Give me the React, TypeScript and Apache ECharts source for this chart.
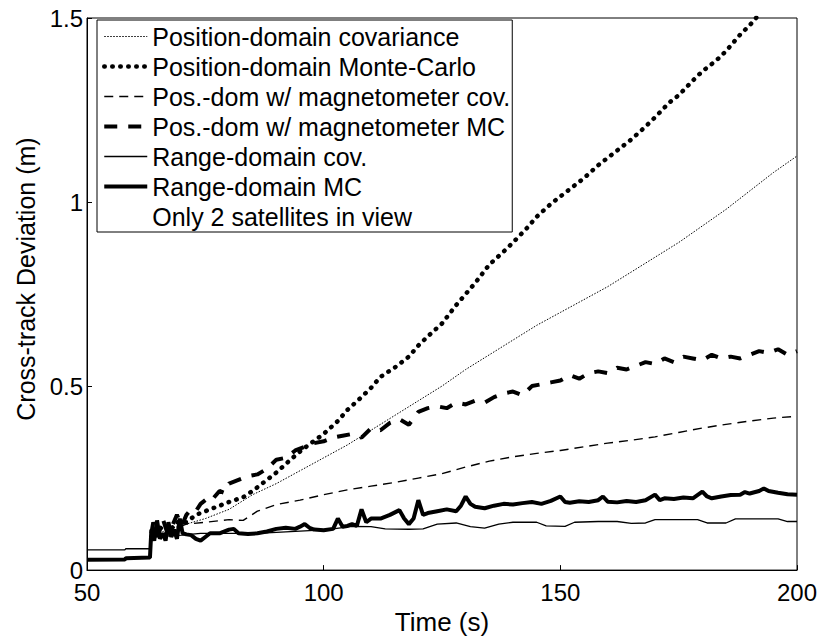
import React, { useEffect, useRef } from "react";
import * as echarts from "echarts";

const xTicks = { min: 50, max: 200, interval: 50 };
const yTicks = { min: 0, max: 1.5, interval: 0.5 };

const seriesNames = [
  "Position-domain covariance",
  "Position-domain Monte-Carlo",
  "Pos.-dom w/ magnetometer cov.",
  "Pos.-dom w/ magnetometer MC",
  "Range-domain cov.",
  "Range-domain MC",
  "Only 2 satellites in view",
];

const posCov: [number, number][] = [
  [63.6, 0.09], [67, 0.11], [71, 0.125], [75, 0.14], [80, 0.165], [85, 0.205], [90, 0.235],
  [95, 0.27], [100, 0.305], [105, 0.34], [110, 0.38], [115, 0.42], [120, 0.46], [125, 0.5],
  [130, 0.545], [135, 0.585], [140, 0.625], [145, 0.665], [150, 0.7], [155, 0.735], [160, 0.77],
  [165, 0.81], [170, 0.85], [175, 0.89], [180, 0.935], [185, 0.98], [190, 1.03], [195, 1.08],
  [200, 1.125],
];

const posMc: [number, number][] = [
  [63.6, 0.09], [65, 0.12], [67, 0.1], [69, 0.13], [71, 0.13], [73, 0.15], [75, 0.16],
  [78, 0.175], [80, 0.185], [83, 0.198], [85, 0.215], [88, 0.245], [90, 0.265], [93, 0.3],
  [95, 0.322], [97, 0.342], [100, 0.37], [103, 0.405], [105, 0.435], [108, 0.47], [110, 0.495],
  [112, 0.525], [115, 0.55], [118, 0.58], [120, 0.61], [122, 0.635], [125, 0.67], [128, 0.72],
  [130, 0.75], [132, 0.78], [135, 0.83], [138, 0.865], [140, 0.89], [143, 0.93], [145, 0.96],
  [148, 0.995], [150, 1.015], [153, 1.045], [155, 1.065], [158, 1.1], [160, 1.12], [163, 1.15],
  [165, 1.17], [168, 1.205], [170, 1.23], [173, 1.27], [175, 1.29], [178, 1.33], [180, 1.355],
  [183, 1.385], [185, 1.41], [188, 1.455], [190, 1.48], [192, 1.51],
];

const magCov: [number, number][] = [
  [63.6, 0.09], [66, 0.1], [68, 0.11], [71, 0.125], [75, 0.13], [80, 0.137], [83, 0.135],
  [86, 0.16], [90, 0.178], [95, 0.19], [100, 0.205], [105, 0.218], [110, 0.228], [115, 0.238],
  [120, 0.25], [125, 0.262], [130, 0.28], [135, 0.296], [140, 0.308], [145, 0.317], [150, 0.325],
  [155, 0.335], [160, 0.345], [165, 0.353], [170, 0.362], [175, 0.374], [180, 0.386],
  [185, 0.396], [190, 0.405], [195, 0.413], [200, 0.418],
];

const magMc: [number, number][] = [
  [63.6, 0.1], [64, 0.13], [65, 0.09], [66, 0.14], [67, 0.1], [68, 0.12], [69, 0.15], [70, 0.12],
  [71, 0.15], [72, 0.165], [73, 0.16], [74, 0.18], [75, 0.19], [76, 0.185], [77, 0.2], [78, 0.215],
  [79, 0.21], [80, 0.235], [82, 0.245], [84, 0.255], [86, 0.26], [88, 0.275], [90, 0.3],
  [92, 0.305], [94, 0.325], [96, 0.335], [98, 0.345], [100, 0.35], [102, 0.36], [104, 0.365],
  [106, 0.37], [108, 0.36], [110, 0.385], [112, 0.38], [114, 0.4], [116, 0.41], [118, 0.395],
  [120, 0.43], [122, 0.44], [124, 0.445], [126, 0.44], [128, 0.455], [130, 0.45], [132, 0.46],
  [134, 0.455], [136, 0.47], [138, 0.48], [140, 0.485], [142, 0.475], [144, 0.5], [146, 0.505],
  [148, 0.51], [150, 0.515], [152, 0.53], [154, 0.52], [156, 0.535], [158, 0.54], [160, 0.535],
  [162, 0.55], [164, 0.545], [166, 0.555], [168, 0.565], [170, 0.56], [172, 0.575], [174, 0.565],
  [176, 0.58], [178, 0.575], [180, 0.57], [182, 0.585], [184, 0.575], [186, 0.58], [188, 0.575],
  [190, 0.585], [192, 0.595], [194, 0.59], [196, 0.6], [198, 0.585], [200, 0.595],
];

const rangeCov: [number, number][] = [
  [50, 0.055], [58, 0.055], [58.2, 0.058], [63.5, 0.058], [63.7, 0.09], [66, 0.092], [70, 0.095],
  [74, 0.1], [80, 0.1], [86, 0.1], [92, 0.104], [98, 0.108], [102, 0.112], [106, 0.119],
  [110, 0.118], [113, 0.112], [118, 0.111], [121, 0.112], [124, 0.125], [128, 0.128], [131, 0.118],
  [134, 0.114], [137, 0.125], [140, 0.13], [145, 0.13], [147, 0.12], [151, 0.119], [153, 0.13],
  [158, 0.132], [162, 0.132], [165, 0.127], [168, 0.128], [170, 0.137], [179, 0.137], [181, 0.128],
  [185, 0.128], [187, 0.139], [196, 0.139], [198, 0.132], [200, 0.132],
];

const rangeMc: [number, number][] = [
  [50, 0.028], [58, 0.029], [58.2, 0.032], [63.3, 0.034], [63.6, 0.11], [64.2, 0.08], [64.8, 0.135],
  [65.4, 0.085], [66, 0.1], [66.6, 0.08], [67.2, 0.13], [67.8, 0.09], [68.4, 0.11], [69, 0.085],
  [69.6, 0.14], [70.2, 0.1], [71, 0.097], [72, 0.095], [73, 0.085], [74, 0.08], [75, 0.09],
  [76, 0.1], [78, 0.1], [80, 0.11], [81, 0.112], [82, 0.1], [84, 0.098], [86, 0.1], [88, 0.105],
  [90, 0.112], [92, 0.115], [94, 0.112], [95, 0.118], [96, 0.125], [97, 0.115], [98, 0.11],
  [100, 0.108], [102, 0.112], [103, 0.14], [104, 0.118], [105, 0.12], [106, 0.125], [107, 0.12],
  [108, 0.165], [109, 0.13], [110, 0.14], [112, 0.14], [114, 0.15], [116, 0.163], [117, 0.14],
  [118, 0.125], [119, 0.14], [120, 0.19], [121, 0.15], [122, 0.155], [124, 0.16], [126, 0.165],
  [128, 0.16], [129, 0.175], [130, 0.2], [131, 0.18], [132, 0.172], [134, 0.168], [136, 0.175],
  [138, 0.18], [140, 0.178], [142, 0.182], [144, 0.185], [146, 0.18], [148, 0.188], [150, 0.2],
  [151, 0.185], [152, 0.183], [154, 0.187], [156, 0.185], [158, 0.19], [159, 0.2], [160, 0.186],
  [162, 0.184], [164, 0.188], [166, 0.185], [168, 0.19], [170, 0.205], [171, 0.19], [172, 0.195],
  [174, 0.193], [176, 0.197], [178, 0.195], [180, 0.213], [181, 0.2], [182, 0.195], [184, 0.2],
  [186, 0.204], [188, 0.205], [189, 0.212], [190, 0.208], [192, 0.215], [193, 0.222], [194, 0.215],
  [196, 0.21], [198, 0.206], [200, 0.205],
];

const FONT = "'Liberation Sans', Arial, Helvetica, sans-serif";

const lineStyles: any[] = [
  { color: "#000", width: 1, type: [1.5, 1.5] },
  { color: "#000", width: 4.5, type: [0.5, 7.5], cap: "round" },
  { color: "#000", width: 1.4, type: [9, 6] },
  { color: "#000", width: 4, type: [13, 11] },
  { color: "#000", width: 1.3, type: "solid" },
  { color: "#000", width: 4, type: "solid" },
  { color: "#fff", width: 1, type: "solid", opacity: 0 },
];

export default function App() {
  const ref = useRef<HTMLDivElement>(null);
  useEffect(() => {
    if (!ref.current) return;
    const chart = echarts.init(ref.current, undefined, { renderer: "svg" });
    const datasets = [posCov, posMc, magCov, magMc, rangeCov, rangeMc, []];
    chart.setOption({
      animation: false,
      backgroundColor: "#fff",
      textStyle: { fontFamily: FONT },
      grid: { left: 87, right: 24, top: 18, bottom: 66, show: true, borderColor: "#000", borderWidth: 1 },
      xAxis: {
        type: "value",
        min: xTicks.min,
        max: xTicks.max,
        interval: xTicks.interval,
        name: "Time (s)",
        nameLocation: "middle",
        nameGap: 35,
        nameTextStyle: { fontSize: 26, color: "#000", fontFamily: FONT },
        axisLine: { lineStyle: { color: "#000", width: 1 } },
        axisTick: { inside: true, length: 5, lineStyle: { color: "#000" } },
        axisLabel: { fontSize: 24, color: "#000", margin: 10, fontFamily: FONT },
        splitLine: { show: false },
      },
      yAxis: {
        type: "value",
        min: yTicks.min,
        max: yTicks.max,
        interval: yTicks.interval,
        name: "Cross-track Deviation (m)",
        nameLocation: "middle",
        nameGap: 46,
        nameTextStyle: { fontSize: 25, color: "#000", fontFamily: FONT, padding: [0, 0, 0, 30] },
        axisLine: { lineStyle: { color: "#000", width: 1 } },
        axisTick: { inside: true, length: 5, lineStyle: { color: "#000" } },
        axisLabel: { fontSize: 24, color: "#000", margin: 4, fontFamily: FONT },
        splitLine: { show: false },
      },
      legend: {
        show: true,
        orient: "vertical",
        left: 97,
        top: 20,
        padding: [4, 2, 3, 5],
        itemGap: 5,
        itemWidth: 43,
        itemHeight: 25,
        backgroundColor: "#fff",
        borderColor: "#000",
        borderWidth: 1,
        selectedMode: false,
        data: seriesNames.map((name, i) => ({
          name,
          lineStyle: { ...lineStyles[i] },
          itemStyle: { opacity: 0, color: "transparent", borderWidth: 0 },
        })),
        itemStyle: { opacity: 0, color: "transparent", borderWidth: 0 },
        textStyle: { fontSize: 25, lineHeight: 25, color: "#000", fontFamily: FONT },
      },
      series: seriesNames.map((name, i) => ({
        name,
        type: "line",
        data: datasets[i],
        symbol: "none",
        showSymbol: false,
        clip: true,
        itemStyle: { color: "#000", opacity: 0 },
        lineStyle: lineStyles[i],
      })),
    });
    return () => chart.dispose();
  }, []);
  return (
    <div
      ref={ref}
      style={{ position: "absolute", left: 0, top: 0, width: 821, height: 640, overflow: "hidden" }}
    />
  );
}
